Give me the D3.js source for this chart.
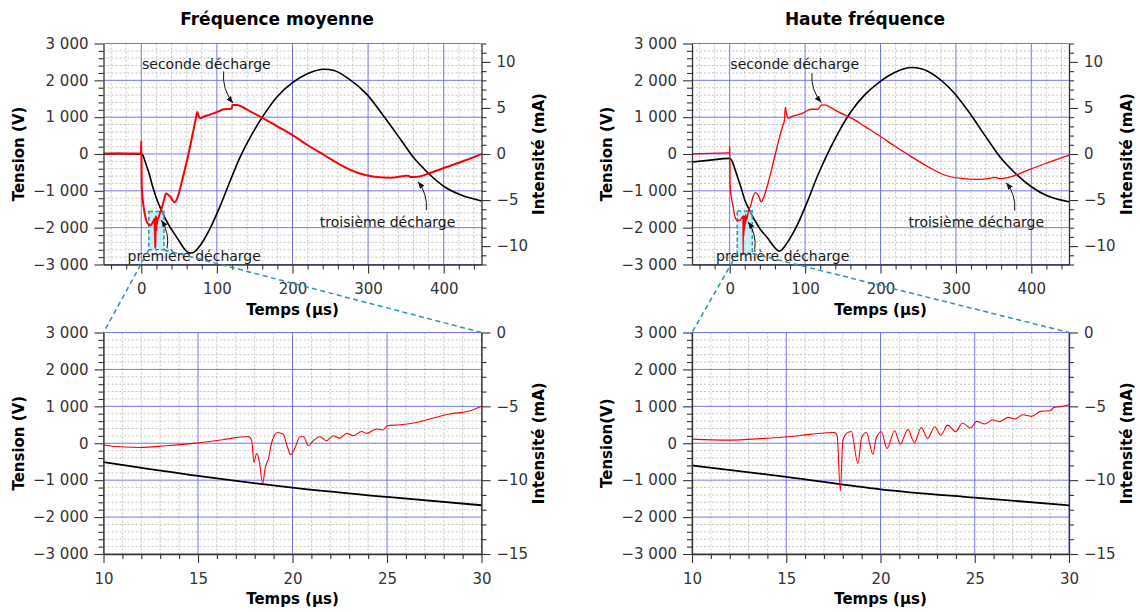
<!DOCTYPE html>
<html>
<head>
<meta charset="utf-8">
<script src="https://cdn.jsdelivr.net/npm/d3@7"></script>
<style>
body { margin: 0; background: #fff; }
text { font-family: "DejaVu Sans", sans-serif; }
.gmin { stroke: #b4b4b4; stroke-width: 0.8; stroke-dasharray: 2,2; }
.gmaj { stroke: #5f5fe8; stroke-width: 1; opacity: 0.85; }
.lbl  { font-size: 15px; font-weight: bold; fill: #000; }
.note { font-size: 14px; fill: #1a1a1a; }
</style>
</head>
<body>
<svg id="fig" width="1140" height="612"></svg>
<script>

// ---------- Fréquence moyenne : [t (µs), tension (V)] et [t (µs), intensité (mA)]
var moy_tension = [[-50,0],[-30,10],[-10,0],[0,0],[2,-30],[5,-200],[7.5,-360],[10,-505],[15,-885],
	[20,-1200],[25,-1455],[30,-1680],[35,-1880],[40.6,-2067],[49.4,-2340],[58,-2600],[64,-2690],
	[68,-2680],[75.8,-2540],[91.5,-2000],[104.8,-1388],[118,-707],[131,-73],[144.6,471],[162,1061],
	[180,1560],[200,1935],[219.7,2177],[241.8,2300],[255,2267],[275,2032],[299,1605],[321,1016],
	[343.5,381],[361,-118],[379,-508],[401,-889],[423,-1116],[450,-1275]];

var moy_courant = [[-50,0.05],[-25,0.05],[-0.4,0.05],[0,1.4],[0.6,-3.6],[3,-5.7],[6.5,-7.2],[9.7,-7.65],
	[12,-7.75],[14.9,-7.5],[16.3,-7.26],[17.6,-7.04],[18.0,-8.8],[18.1,-8.2],[18.25,-8.7],[18.42,-10.2],
	[18.7,-8.6],[18.9,-7.45],[19.2,-6.77],[19.5,-6.9],[19.9,-8.28],[20.4,-7.06],[20.84,-7.67],[21.45,-7.06],
	[22.5,-6.95],[23.66,-6.7],[25,-6.31],[27.45,-5.79],[30,-5.0],[32.5,-4.28],[38,-4.6],[44,-5.25],[47,-4.9],
	[52,-3.55],[56,-2.2],[60.6,-0.65],[65,1.0],[69,2.6],[72,3.8],[74,4.55],[76,4.1],[78,3.88],[82.7,4.06],
	[90,4.25],[96,4.43],[103,4.65],[109,4.86],[119.5,4.9],[120.5,5.33],[127,5.33],[135,5.05],[144.6,4.6],
	[162,3.85],[180,3.0],[200,2.05],[219.7,0.98],[241.8,-0.11],[264,-1.2],[286,-2.03],[308,-2.47],
	[330,-2.58],[348,-2.39],[353,-2.35],[356.8,-2.5],[365.6,-2.47],[383,-2.03],[405,-1.38],[427,-0.73],[450,0]];

// zoom 10-30 µs
var moy_zoom_tension = [[10,-510],[15,-884],[20,-1200],[25,-1455],[30,-1680]];
var moy_zoom_courant = [[10,-7.62],[10.5,-7.7],[10.9,-7.74],[11.9,-7.79],[13.3,-7.67],[14.9,-7.49],
	[16.3,-7.26],[17.66,-7.04],[17.84,-7.3],[17.96,-8.8],[18.1,-8.19],[18.24,-8.69],[18.42,-10.23],
	[18.56,-9.14],[18.72,-8.58],[18.9,-7.45],[19.2,-6.77],[19.5,-6.88],[19.74,-7.79],[19.9,-8.28],
	[20.14,-7.79],[20.4,-7.06],[20.58,-7.06],[20.84,-7.67],[21.1,-7.33],[21.45,-7.06],[21.8,-7.33],
	[22.16,-6.99],[22.5,-7.15],[22.87,-6.83],[23.2,-6.99],[23.66,-6.7],[23.92,-6.83],[24.45,-6.54],
	[24.8,-6.6],[25.0,-6.31],[25.7,-6.25],[26.57,-6.09],[27.45,-5.79],[28.33,-5.52],[29.4,-5.3],[30,-5.0]];

// ---------- Haute fréquence
var hf_tension = [[-50,-218],[-29,-172],[0,-118],[3,-190],[6.6,-390],[10,-600],[15,-910],[20,-1247],
	[25,-1474],[30,-1681],[35,-1860],[40,-2030],[50.8,-2294],[58,-2500],[66,-2640],[77,-2385],
	[90.6,-1886],[103.8,-1251],[117,-571],[130,19],[143.6,563],[161,1152],[179,1605],[199,1960],
	[218.8,2213],[240.8,2348],[254,2312],[274,2103],[298,1651],[320,1061],[342.6,381],[360,-118],
	[378,-508],[400,-889],[422,-1143],[450,-1297]];

var hf_courant = [[-50,0.0],[-25,0.07],[-0.3,0.15],[0,0.8],[0.4,-3.2],[2,-4.6],[4.4,-5.7],[7,-6.8],
	[10,-7.22],[13.9,-7.17],[16.3,-6.88],[17.57,-6.77],[17.87,-10.73],[18.2,-6.83],[18.45,-6.7],
	[18.8,-8.87],[19.25,-6.8],[19.6,-8.24],[20.05,-6.72],[20.34,-7.85],[20.75,-6.65],[21.05,-7.56],
	[21.45,-6.58],[22.5,-7.17],[23.2,-6.95],[25,-6.1],[28,-5.6],[30,-4.89],[34.4,-4.2],[38,-4.5],
	[42,-5.2],[46,-4.5],[50.8,-3.2],[56,-1.5],[61.8,0.43],[66,1.8],[70.7,3.15],[72.5,3.6],[73.8,5.08],
	[75.5,4.3],[77.3,3.88],[81.7,4.06],[95,4.35],[108,4.86],[117,4.86],[121.5,5.3],[126,5.33],[135,5.0],
	[143.6,4.6],[165.8,3.7],[180,2.95],[200,1.9],[218.8,0.87],[240.8,-0.29],[263,-1.38],[285,-2.28],
	[307,-2.65],[329,-2.76],[345,-2.65],[351.5,-2.54],[360,-2.68],[373.5,-2.47],[395.6,-1.74],[422,-0.94],[451,-0.1]];

var hf_zoom_tension = [[10,-600],[15,-911],[20,-1247],[25,-1474],[30,-1681]];
var hf_zoom_courant = [[10,-7.22],[11.9,-7.29],[13.86,-7.17],[15.1,-7.06],[16.33,-6.88],[17.57,-6.77],
	[17.7,-7.0],[17.87,-10.73],[18.0,-7.33],[18.2,-6.83],[18.45,-6.7],[18.8,-8.87],[19.0,-7.11],
	[19.25,-6.77],[19.6,-8.24],[19.78,-7.11],[20.05,-6.72],[20.34,-7.85],[20.75,-6.65],[21.05,-7.56],
	[21.45,-6.58],[21.8,-7.45],[22.16,-6.43],[22.5,-7.17],[22.88,-6.38],[23.2,-6.95],[23.56,-6.27],
	[23.99,-6.72],[24.35,-6.13],[24.78,-6.47],[25.1,-6.02],[25.53,-6.2],[25.97,-5.91],[26.32,-6.04],
	[26.77,-5.75],[27.12,-5.86],[27.56,-5.57],[28.0,-5.68],[28.5,-5.34],[29.0,-5.3],[29.2,-5.07],
	[29.56,-5.02],[30,-4.89]];

// ticks
var v_major = [-3000,-2000,-1000,0,1000,2000,3000];
var t_major = [0,100,200,300,400];
var tz_major = [10,15,20,25,30];
var i_major = [-10,-5,0,5,10];
var iz_major = [-15,-10,-5,0];

// annotations (t en µs, intensité en mA)
var moy_notes = [
	{txt:"seconde décharge",   tx:86,    ty:9.8,   sx:108.9, sy:8.96,   ex:121.3, ey:5.52},
	{txt:"troisième décharge", tx:325.8, ty:-7.37, sx:377,   sy:-6.09,  ex:366,   ey:-3.01},
	{txt:"première décharge",  tx:70,    ty:-11.1, sx:34,    sy:-10.26, ex:26.5,  ey:-7.18}
];
var hf_notes = [
	{txt:"seconde décharge",   tx:86.2,  ty:9.8,   sx:109,   sy:8.78,   ex:121.5, ey:5.58},
	{txt:"troisième décharge", tx:327,   ty:-7.37, sx:378,   sy:-6.17,  ex:366.8, ey:-3.12},
	{txt:"première décharge",  tx:70.3,  ty:-11.1, sx:33.2,  sy:-10.37, ex:24.3,  ey:-7.37}
];

var svg = d3.select("#fig");

svg.append("defs").append("marker")
	.attr("id","ah").attr("viewBox","0 0 10 10").attr("refX",10).attr("refY",5)
	.attr("markerWidth",7).attr("markerHeight",7).attr("markerUnits","userSpaceOnUse")
	.attr("orient","auto")
	.append("path").attr("d","M0,1L10,5L0,9Z").attr("fill","#111");

function fmt(v){
	var s = d3.format(",")(Math.abs(v)).replace(/,/g,"\u00a0");
	return (v < 0 ? "\u2212" : "") + s;
}

function style_axis(ax){
	ax.attr("font-size",15).attr("font-family","DejaVu Sans");
	ax.selectAll("line").attr("stroke","#333").attr("stroke-width",1.1);
	ax.selectAll("path").attr("stroke","#333").attr("stroke-width",1.3);
	ax.selectAll("text").attr("fill","#333");
}

function draw_panel(p){
	var g = svg.append("g");
	var x  = d3.scaleLinear().domain(p.xDom).range([p.x0, p.x1]);
	var yV = d3.scaleLinear().domain([-3000,3000]).range([p.y1, p.y0]);
	var yI = d3.scaleLinear().domain(p.iDom).range([p.y1, p.y0]);

	var xMinor = d3.range(p.xMin[0], p.xMin[1], p.xMin[2]).filter(function(d){ return p.xMaj.indexOf(d) < 0; });
	var vMinor = d3.range(-3000, 3001, 200).filter(function(d){ return v_major.indexOf(d) < 0; });
	var iMinor = d3.range(p.iDom[0], p.iDom[1] + 0.5, 1).filter(function(d){ return p.iMaj.indexOf(d) < 0; });

	// grille
	g.append("g").selectAll("line").data(xMinor).enter().append("line").attr("class","gmin")
		.attr("x1", function(d){ return x(d); }).attr("x2", function(d){ return x(d); })
		.attr("y1", p.y0).attr("y2", p.y1);
	g.append("g").selectAll("line").data(vMinor).enter().append("line").attr("class","gmin")
		.attr("y1", function(d){ return yV(d); }).attr("y2", function(d){ return yV(d); })
		.attr("x1", p.x0).attr("x2", p.x1);
	g.append("g").selectAll("line").data(p.xMaj).enter().append("line").attr("class","gmaj")
		.attr("x1", function(d){ return x(d); }).attr("x2", function(d){ return x(d); })
		.attr("y1", p.y0).attr("y2", p.y1);
	g.append("g").selectAll("line").data(v_major).enter().append("line").attr("class","gmaj")
		.attr("y1", function(d){ return yV(d); }).attr("y2", function(d){ return yV(d); })
		.attr("x1", p.x0).attr("x2", p.x1);

	// tension
	g.append("path").datum(p.tension)
		.attr("fill","none").attr("stroke","#000").attr("stroke-width",p.wV)
		.attr("d", d3.line().curve(d3.curveMonotoneX)
			.x(function(d){ return x(d[0]); })
			.y(function(d){ return yV(d[1]); }));

	// zone agrandie
	if (p.rect){
		g.append("rect")
			.attr("x", x(10)).attr("width", x(30) - x(10))
			.attr("y", yI(p.rect[1])).attr("height", yI(p.rect[0]) - yI(p.rect[1]))
			.attr("fill","#9ee6f7").attr("fill-opacity",0.55)
			.attr("stroke","#2b93b0").attr("stroke-width",1.5).attr("stroke-dasharray","4,2.5");
	}

	// intensité
	g.append("path").datum(p.courant)
		.attr("fill","none").attr("stroke","#ff0000").attr("stroke-width",p.wI)
		.attr("stroke-linejoin","round")
		.attr("d", d3.line().curve(d3.curveMonotoneX)
			.x(function(d){ return x(d[0]); })
			.y(function(d){ return yI(d[1]); }));

	// axes
	var a1 = g.append("g").attr("transform","translate(" + p.x0 + ",0)")
		.call(d3.axisLeft(yV).tickValues(v_major).tickFormat(fmt).tickSize(9).tickSizeOuter(0).tickPadding(6));
	style_axis(a1);
	var a2 = g.append("g").attr("transform","translate(" + p.x0 + ",0)")
		.call(d3.axisLeft(yV).tickValues(vMinor).tickFormat("").tickSize(5).tickSizeOuter(0));
	a2.select(".domain").remove(); style_axis(a2);

	var a3 = g.append("g").attr("transform","translate(" + p.x1 + ",0)")
		.call(d3.axisRight(yI).tickValues(p.iMaj).tickFormat(fmt).tickSize(9).tickSizeOuter(0).tickPadding(6));
	style_axis(a3);
	var a4 = g.append("g").attr("transform","translate(" + p.x1 + ",0)")
		.call(d3.axisRight(yI).tickValues(iMinor).tickFormat("").tickSize(5).tickSizeOuter(0));
	a4.select(".domain").remove(); style_axis(a4);

	var a5 = g.append("g").attr("transform","translate(0," + p.y1 + ")")
		.call(d3.axisBottom(x).tickValues(p.xMaj).tickFormat(fmt).tickSize(9).tickSizeOuter(0).tickPadding(10));
	style_axis(a5);
	var a6 = g.append("g").attr("transform","translate(0," + p.y1 + ")")
		.call(d3.axisBottom(x).tickValues(xMinor).tickFormat("").tickSize(5).tickSizeOuter(0));
	a6.select(".domain").remove(); style_axis(a6);

	// titres d'axes
	g.append("text").attr("class","lbl").attr("text-anchor","middle")
		.attr("x", (p.x0 + p.x1) / 2).attr("y", p.y1 + 50).text("Temps (µs)");
	g.append("text").attr("class","lbl").attr("text-anchor","middle").attr("dy","0.35em")
		.attr("transform","translate(" + (p.x0 - 85) + "," + ((p.y0 + p.y1) / 2) + ") rotate(-90)")
		.text(p.vLabel);
	g.append("text").attr("class","lbl").attr("text-anchor","middle").attr("dy","0.35em")
		.attr("transform","translate(" + (p.x1 + 57.5) + "," + ((p.y0 + p.y1) / 2) + ") rotate(-90)")
		.text("Intensité (mA)");

	// annotations
	(p.notes || []).forEach(function(n){
		var ax = x(n.sx), ay = yI(n.sy), bx = x(n.ex), by = yI(n.ey);
		var mx = (ax + bx) / 2, my = (ay + by) / 2, dx = bx - ax, dy = by - ay, rad = -0.2;
		g.append("path")
			.attr("d","M" + ax + "," + ay + "Q" + (mx + rad * dy) + "," + (my - rad * dx) + " " + bx + "," + by)
			.attr("fill","none").attr("stroke","#111").attr("stroke-width",1)
			.attr("marker-end","url(#ah)");
		g.append("text").attr("class","note").attr("text-anchor","middle").attr("dy","0.35em")
			.attr("x", x(n.tx)).attr("y", yI(n.ty)).text(n.txt);
	});

	return {x: x, yI: yI, p: p};
}

var TOP = [43.5, 264.5], BOT = [332.5, 554];
var cols = [
	{x0:103.5, x1:481.5, title:"Fréquence moyenne", tx:277,
	 big:moy_tension, bigI:moy_courant, zV:moy_zoom_tension, zI:moy_zoom_courant,
	 notes:moy_notes, rect:[-10.4,-6.25], wI:2.0, zLabel:"Tension (V)"},
	{x0:692, x1:1069, title:"Haute fréquence", tx:865,
	 big:hf_tension, bigI:hf_courant, zV:hf_zoom_tension, zI:hf_zoom_courant,
	 notes:hf_notes, rect:[-10.8,-6.2], wI:1.3, zLabel:"Tension(V)"}
];

cols.forEach(function(c){
	svg.append("text").attr("x", c.tx).attr("y", 24.5).attr("text-anchor","middle")
		.attr("font-size",17).attr("font-weight","bold").text(c.title);

	var top = draw_panel({x0:c.x0, x1:c.x1, y0:TOP[0], y1:TOP[1], xDom:[-50,450], xMaj:t_major,
		xMin:[-40,441,20], iDom:[-12,12], iMaj:i_major, tension:c.big, courant:c.bigI,
		wV:1.6, wI:c.wI, rect:c.rect, notes:c.notes, vLabel:"Tension (V)"});
	var bot = draw_panel({x0:c.x0, x1:c.x1, y0:BOT[0], y1:BOT[1], xDom:[10,30], xMaj:tz_major,
		xMin:[10,30.5,1], iDom:[-15,0], iMaj:iz_major, tension:c.zV, courant:c.zI,
		wV:1.8, wI:1.1, vLabel:c.zLabel});

	// lignes de liaison
	var yb = top.yI(c.rect[0]);
	[[10, c.x0], [30, c.x1]].forEach(function(k){
		svg.append("line")
			.attr("x1", top.x(k[0])).attr("y1", yb).attr("x2", k[1]).attr("y2", BOT[0])
			.attr("stroke","#2b93b0").attr("stroke-width",1.5).attr("stroke-dasharray","5,3.5");
	});
});

</script>
</body>
</html>
